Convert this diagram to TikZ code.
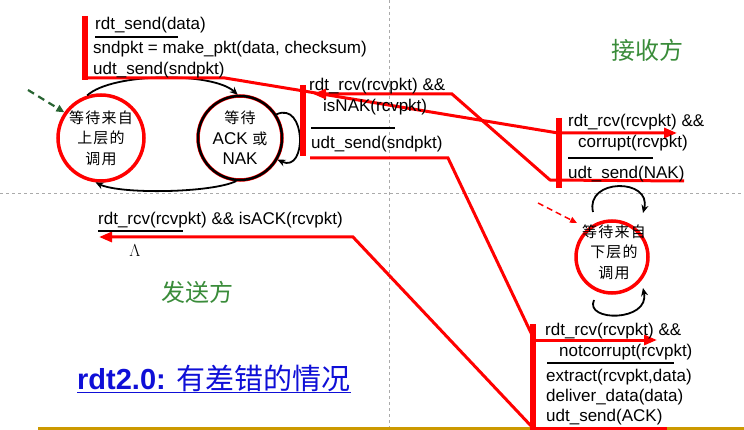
\documentclass[tikz,border=0pt]{standalone}
\usepackage{fontspec}
\setmainfont{Liberation Sans}
\newfontfamily\cjk{Noto Sans CJK SC}
\newfontfamily\cjks[LetterSpace=8]{Noto Sans CJK SC}
\usetikzlibrary{arrows.meta,calc}
\definecolor{nred}{RGB}{255,0,0}
\definecolor{ngreen}{RGB}{58,140,58}
\definecolor{dgreen}{RGB}{40,100,50}
\definecolor{nblue}{RGB}{15,15,215}
\definecolor{gold}{RGB}{204,153,0}
\definecolor{guide}{RGB}{170,170,170}
\begin{document}
\begin{tikzpicture}[x=1pt,y=-1pt,
  txt/.style={inner sep=0pt,anchor=base west,font=\fontsize{17}{20}\selectfont},
  redpath/.style={nred,line width=3pt,line join=miter},
  bracket/.style={nred,line width=6pt},
  rulebar/.style={black,line width=2pt},
  redtip/.style={-{Triangle[length=13pt,width=10pt]}},
  arc/.style={black,line width=1.8pt,-{Stealth[length=8pt,width=7pt]}},
  guideline/.style={guide,line width=0.8pt,dash pattern=on 3pt off 3pt},
  state/.style={circle,inner sep=0pt,align=center,font=\cjks\fontsize{15}{20.5}\selectfont}]
\useasboundingbox (0,0) rectangle (744,430);
\fill[white] (0,0) rectangle (744,430);

% guide lines
\draw[guideline] (0,193) -- (744,193);
\draw[guideline] (389,0) -- (389,430);
\draw[gold,line width=3pt] (38,428.5) -- (744,428.5);

% states
\node[state,draw=nred,line width=3.5pt,minimum size=86pt] (s1) at (101,138) {等待来自\\上层的\\调用};
\node[state,draw=black,line width=2.5pt,minimum size=84pt,preaction={draw=nred,line width=3.5pt}] (s2) at (240,138)
  {等待\\{\rmfamily\fontsize{17}{20}\selectfont ACK} 或\\{\rmfamily\fontsize{17}{20}\selectfont NAK}};
\node[circle,draw=nred,line width=3.5pt,minimum size=72pt] (r1) at (612,257) {};
\node[state] (r1t) at (614,252) {等待来自\\下层的\\调用};

% black transitions
\draw[arc] (s1.108) .. controls +(25,-23) and +(-25,-23) .. (s2.93);
\draw[arc] (s2.-95) .. controls +(-25,12) and +(25,12) .. (s1.-97);
\draw[arc] (s2.33) .. controls +(30,-14) and +(30,14) .. (s2.-30);
\coordinate (rt1) at (593,212);
\coordinate (rt2) at (643,213);
\coordinate (rb1) at (594,300);
\coordinate (rb2) at (643,288);
\draw[arc] (rt1) .. controls (585,178) and (652,178) .. (rt2);
\draw[arc] (rb1) .. controls (584,322) and (650,322) .. (rb2);

% initial arrows
\coordinate (g0) at (28,90);
\draw[dgreen,line width=2.2pt,dash pattern=on 7pt off 5pt,-{Triangle[length=8pt,width=7pt]}] (g0) -- (s1.145);
\coordinate (q0) at (538,203);
\coordinate (q1) at (577,223);
\draw[nred,line width=1.5pt,dash pattern=on 6pt off 4pt,-{Triangle[length=7pt,width=6pt]}] (q0) -- (q1);

% red overlay paths
\draw[bracket] (85,16) -- (85,80);
\draw[redpath,redtip] (85,78) -- (225,78) -- (558,133) -- (677,133);
\draw[bracket] (303,85) -- (303,156);
\draw[redpath,redtip] (684,181) -- (550,180) -- (452,94) -- (313,94);
\draw[bracket] (559,118) -- (559,188);
\draw[redpath] (310,158) -- (448,158) -- (532,335);
\draw[bracket] (533,324) -- (533,430);
\draw[redpath,redtip] (533,340) -- (657,340);
\draw[redpath,redtip] (533,428) -- (353,237) -- (99,237);
\draw[redpath] (533,428) -- (667,428);

% sender: rdt_send
\node[txt] (a1) at (95,30) {rdt\_send(data)};
\draw[rulebar] (95,37) -- (178,37);
\node[txt] (a2) at (93,54) {sndpkt = make\_pkt(data, checksum)};
\node[txt] (a3) at (93,75) {udt\_send(sndpkt)};

% sender: isNAK
\node[txt] (b1) at (309,91) {rdt\_rcv(rcvpkt) \&\&};
\node[txt] (b2) at (323,112) {isNAK(rcvpkt)};
\draw[rulebar] (311,128) -- (395,128);
\node[txt] (b3) at (311,149) {udt\_send(sndpkt)};

% sender: isACK
\node[txt] (c1) at (98,225) {rdt\_rcv(rcvpkt) \&\& isACK(rcvpkt)};
\draw[rulebar] (98,231) -- (183,231);
\node[inner sep=0pt,font=\fontsize{18}{20}\selectfont] (lam) at (135,251) {$\Lambda$};

% receiver: corrupt
\node[txt] (d1) at (568,127) {rdt\_rcv(rcvpkt) \&\&};
\node[txt] (d2) at (578,148) {corrupt(rcvpkt)};
\draw[rulebar] (568,158) -- (653,158);
\node[txt] (d3) at (568,179) {udt\_send(NAK)};

% receiver: notcorrupt
\node[txt] (e1) at (545,335) {rdt\_rcv(rcvpkt) \&\&};
\node[txt] (e2) at (559,356) {notcorrupt(rcvpkt)};
\draw[rulebar] (547,363) -- (674,363);
\node[txt] (e3) at (546,381) {extract(rcvpkt,data)};
\node[txt] (e4) at (546,401) {deliver\_data(data)};
\node[txt] (e5) at (546,421) {udt\_send(ACK)};

% side labels
\node[ngreen,inner sep=0pt,font=\cjk\fontsize{24}{24}\selectfont] (snd) at (197,292) {发送方};
\node[ngreen,inner sep=0pt,font=\cjk\fontsize{24}{24}\selectfont] (rcv) at (647,50) {接收方};

% title
\node[txt,nblue,font=\fontsize{29}{30}\selectfont] (title) at (77,389) {\textbf{rdt2.0:} {\cjk 有差错的情况}};
\draw[nblue,line width=1.8pt] ([yshift=-3.5pt]title.base west) -- ([yshift=-3.5pt]title.base east);
\end{tikzpicture}
\end{document}
